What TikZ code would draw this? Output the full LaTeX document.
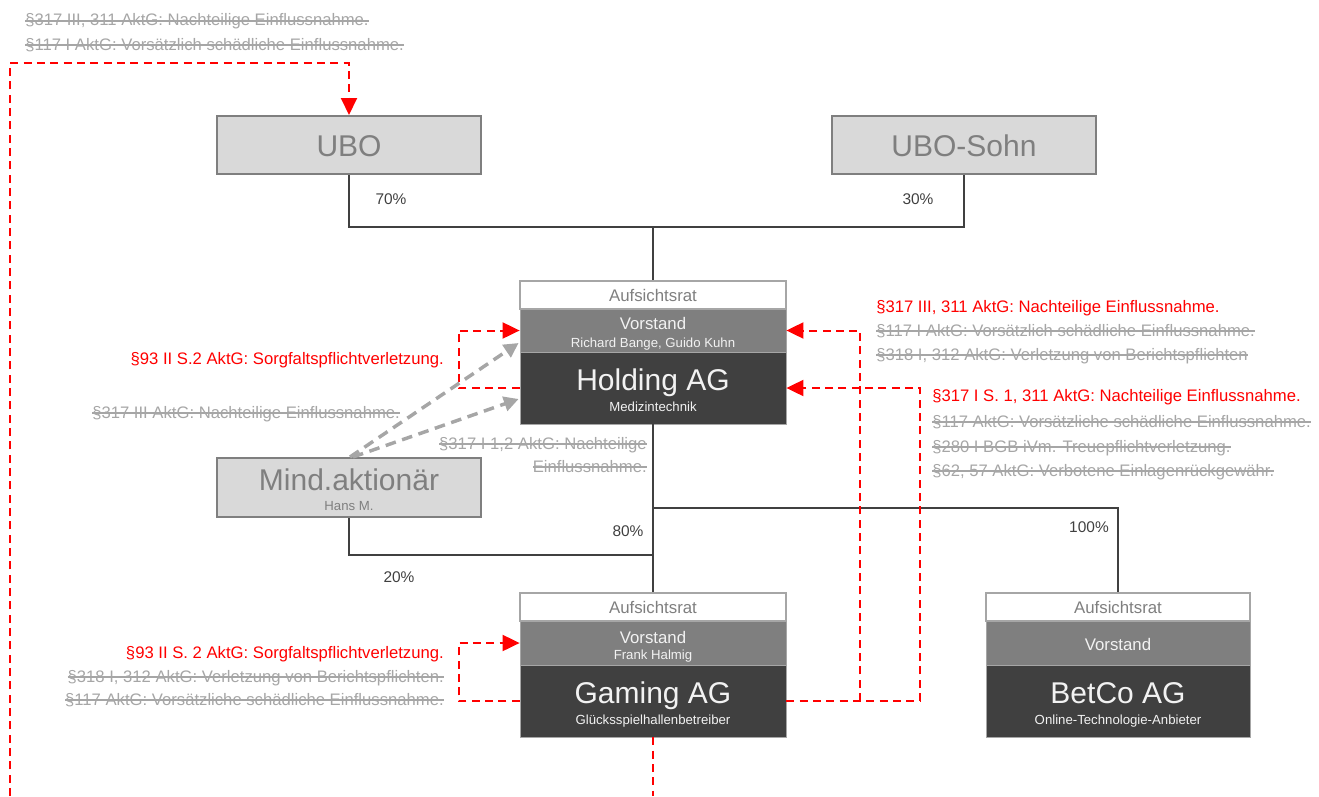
\documentclass[tikz,border=0pt]{standalone}
\usepackage{fontspec}
\setmainfont{Liberation Sans}
\usetikzlibrary{arrows.meta,calc}
\definecolor{lgray}{HTML}{D9D9D9}
\definecolor{mgray}{HTML}{7F7F7F}
\definecolor{sgray}{HTML}{A6A6A6}
\definecolor{dgray}{HTML}{404040}
\definecolor{wtext}{HTML}{F2F2F2}
\definecolor{lred}{HTML}{FF0000}
\newsavebox\strkbox
\newcommand\strk[1]{\sbox\strkbox{#1}\rlap{\usebox\strkbox}\rule[0.26em]{\wd\strkbox}{0.9pt}}
\newcommand\fsLaw{\fontsize{12.5pt}{15pt}\selectfont}
\newcommand\fsBig{\fontsize{22.5pt}{26pt}\selectfont}
\newcommand\fsMid{\fontsize{12.6pt}{15pt}\selectfont}
\newcommand\fsSmall{\fontsize{9.9pt}{12pt}\selectfont}
\newcommand\fsPct{\fontsize{11.6pt}{14pt}\selectfont}
\tikzset{
  ownbox/.style={draw=mgray, line width=1.5pt, fill=lgray, minimum width=198pt, minimum height=43.5pt, inner sep=0pt},
  arbox/.style={draw=sgray, line width=1.5pt, fill=white, minimum width=199.5pt, minimum height=21pt, inner sep=0pt},
  vsbox/.style={draw=sgray, line width=0.6pt, fill=mgray, minimum width=199.5pt, minimum height=33pt, inner sep=0pt},
  agbox/.style={draw=sgray, line width=0.6pt, fill=dgray, minimum width=199.5pt, minimum height=54pt, inner sep=0pt},
  txt/.style={inner sep=0pt, anchor=base},
  lawred/.style={inner sep=0pt, text=lred, font=\fsLaw},
  lawgray/.style={inner sep=0pt, text=sgray, font=\fsLaw},
  pct/.style={inner sep=0pt, anchor=base, text=dgray, font=\fsPct},
  own/.style={draw=dgray, line width=1.5pt},
  redarrow/.style={draw=lred, line width=1.5pt, dash pattern=on 6pt off 4pt, -{Triangle[length=12.75pt,width=12pt]}},
  redline/.style={draw=lred, line width=1.5pt, dash pattern=on 6pt off 4pt},
  grayarrow/.style={draw=sgray, line width=2.6pt, dash pattern=on 8pt off 5pt, -{Triangle[length=11pt,width=11pt]}}
}
\begin{document}
\begin{tikzpicture}[x=0.75pt,y=-0.75pt]
\useasboundingbox (0,0) rectangle (1319,796);
% shareholders
\node[ownbox] (ubo) at (349,145) {};
\node[txt, text=mgray, font=\fsBig] (ubot) at (349,156) {UBO};
\node[ownbox] (sohn) at (964,145) {};
\node[txt, text=mgray, font=\fsBig] (sohnt) at (964,156) {UBO-Sohn};
\node[ownbox, minimum height=44.25pt] (mind) at (349,487.5) {};
\node[txt, text=mgray, font=\fsBig] (mindt) at (349,490) {Mind.aktionär};
\node[txt, text=mgray, font=\fsSmall] (minds) at (349,510.5) {Hans M.};
% Holding AG
\node[arbox] (har) at (653,295) {};
\node[txt, text=mgray, font=\fsMid] (hart) at (653,301) {Aufsichtsrat};
\node[vsbox, minimum height=32.25pt] (hvs) at (653,330.5) {};
\node[txt, text=wtext, font=\fsMid] (hvst) at (653,329.5) {Vorstand};
\node[txt, text=wtext, font=\fsSmall] (hvss) at (653,347.5) {Richard Bange, Guido Kuhn};
\node[agbox] (hag) at (653,388) {};
\node[txt, text=wtext, font=\fsBig] (hagt) at (653,390.7) {Holding AG};
\node[txt, text=wtext, font=\fsSmall] (hags) at (653,411.5) {Medizintechnik};
% Gaming AG
\node[arbox] (gar) at (653,607) {};
\node[txt, text=mgray, font=\fsMid] (gart) at (653,613) {Aufsichtsrat};
\node[vsbox] (gvs) at (653,643) {};
\node[txt, text=wtext, font=\fsMid] (gvst) at (653,643) {Vorstand};
\node[txt, text=wtext, font=\fsSmall] (gvss) at (653,659.5) {Frank Halmig};
\node[agbox] (gag) at (653,701) {};
\node[txt, text=wtext, font=\fsBig] (gagt) at (653,703.5) {Gaming AG};
\node[txt, text=wtext, font=\fsSmall] (gags) at (653,724) {Glücksspielhallenbetreiber};
% BetCo AG
\node[arbox, minimum width=198pt] (bar) at (1118,607) {};
\node[txt, text=mgray, font=\fsMid] (bart) at (1118,613) {Aufsichtsrat};
\node[vsbox, minimum width=198pt] (bvs) at (1118,643) {};
\node[txt, text=wtext, font=\fsMid] (bvst) at (1118,650) {Vorstand};
\node[agbox, minimum width=198pt] (bag) at (1118,701) {};
\node[txt, text=wtext, font=\fsBig] (bagt) at (1118,703.5) {BetCo AG};
\node[txt, text=wtext, font=\fsSmall] (bags) at (1118,724) {Online-Technologie-Anbieter};
% ownership lines
\coordinate (jtop) at (653,227);
\coordinate (jbet) at (653,508);
\coordinate (jmind) at (653,555);
\draw[own] (ubo.south) |- (jtop) -| (sohn.south);
\draw[own] (jtop) -- (har.north);
\draw[own] (hag.south) -- (gar.north);
\draw[own] (jbet) -| (bar.north);
\draw[own] (mind.south) |- (jmind);
\node[pct] (p70) at (391,204) {70\%};
\node[pct] (p30) at (918,204) {30\%};
\node[pct] (p80) at (628,536) {80\%};
\node[pct] (p20) at (399,582) {20\%};
\node[pct] (p100) at (1089,532) {100\%};
% red dashed connectors
\coordinate (rstart) at (10,796);
\coordinate (gbot) at (653,796);
\coordinate (rtop) at (10,63);
\draw[redarrow] (rstart) -- (rtop) -| (ubo.north);
\draw[redarrow] (hag.west) -- ++(-61,0) |- (hvs.west);
\draw[redarrow] (gag.west) -- ++(-61,0) |- (gvs.west);
\coordinate (rj1) at (860,701);
\coordinate (rj2) at (920,701);
\draw[redline] (gag.east) -- (rj2);
\draw[redarrow] (rj2) |- (hag.east);
\draw[redarrow] (rj1) |- (hvs.east);
\draw[redline] (gag.south) -- (gbot);
% gray dashed arrows
\draw[grayarrow] ($(mind.north)+(1,0)$) -- ($(hvs.west)+(-1,12.5)$);
\draw[grayarrow] ($(mind.north)+(4,0)$) -- ($(hag.west)+(-1,11)$);
% legal texts
\node[lawgray, anchor=base west] (t1) at (25,26) {\strk{§317 III, 311 AktG: Nachteilige Einflussnahme.}};
\node[lawgray, anchor=base west] (t2) at (25,50) {\strk{§117 I AktG: Vorsätzlich schädliche Einflussnahme.}};
\node[lawred, anchor=base east] (h1) at (444,364) {§93 II S.2 AktG: Sorgfaltspflichtverletzung.};
\node[lawgray, anchor=base west] (h2) at (92,418) {\strk{§317 III AktG: Nachteilige Einflussnahme.}};
\node[lawgray, anchor=base east] (h3) at (647,449) {\strk{§317 I 1,2 AktG: Nachteilige}};
\node[lawgray, anchor=base east] (h4) at (647,472) {\strk{Einflussnahme.}};
\node[lawred, anchor=base west] (r1) at (876,312) {§317 III, 311 AktG: Nachteilige Einflussnahme.};
\node[lawgray, anchor=base west] (r2) at (876,336) {\strk{§117 I AktG: Vorsätzlich schädliche Einflussnahme.}};
\node[lawgray, anchor=base west] (r3) at (876,360) {\strk{§318 I, 312 AktG: Verletzung von Berichtspflichten}};
\node[lawred, anchor=base west] (s1) at (932,401) {§317 I S. 1, 311 AktG: Nachteilige Einflussnahme.};
\node[lawgray, anchor=base west] (s2) at (932,427) {\strk{§117 AktG: Vorsätzliche schädliche Einflussnahme.}};
\node[lawgray, anchor=base west] (s3) at (932,452) {\strk{§280 I BGB iVm. Treuepflichtverletzung.}};
\node[lawgray, anchor=base west] (s4) at (932,476) {\strk{§62, 57 AktG: Verbotene Einlagenrückgewähr.}};
\node[lawred, anchor=base east] (g1) at (444,658) {§93 II S. 2 AktG: Sorgfaltspflichtverletzung.};
\node[lawgray, anchor=base east] (g2) at (444,682) {\strk{§318 I, 312 AktG: Verletzung von Berichtspflichten.}};
\node[lawgray, anchor=base east] (g3) at (444,705) {\strk{§117 AktG: Vorsätzliche schädliche Einflussnahme.}};
\end{tikzpicture}
\end{document}
